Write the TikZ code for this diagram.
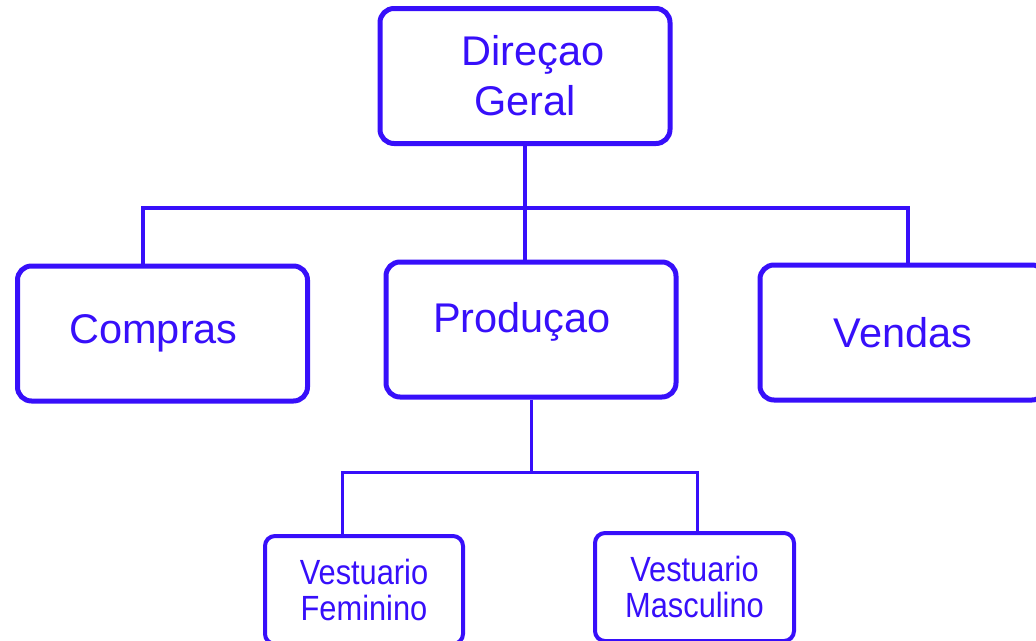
\documentclass[tikz,border=0pt]{standalone}
\usepackage{fontspec}
\setmainfont{Liberation Sans}
\newfontfamily\narrowsans[FakeStretch=0.88]{Liberation Sans}
\usetikzlibrary{positioning,calc}
\definecolor{orgblue}{RGB}{55,15,250}
\tikzset{
  bigbox/.style={rectangle,draw=orgblue,line width=5pt,rounded corners=14pt,text=orgblue,align=center,font=\fontsize{41.5}{50}\selectfont,minimum width=290pt,minimum height=135pt,inner sep=0pt},
  smallbox/.style={rectangle,draw=orgblue,line width=4pt,rounded corners=10pt,text=orgblue,align=center,font=\narrowsans\fontsize{35}{36}\selectfont,minimum width=198pt,minimum height=108pt,inner sep=0pt},
  link/.style={draw=orgblue,line width=4pt},
  sublink/.style={draw=orgblue,line width=3pt}
}

\begin{document}
\begin{tikzpicture}[x=1pt,y=-1pt]
        \useasboundingbox (0,0) rectangle (1036,640);
        \clip (0,0) rectangle (1036,640);

        % Top level
        \node[bigbox] (dir) at (525,76) {\hspace*{16pt}Direçao\\Geral};

        % Departments
        \node[bigbox] (comp) at (162.5,333.5) {Compras\hspace*{18pt}};
        \node[bigbox,text depth=24pt] (prod) at (531,329.5) {Produçao\hspace*{18pt}};
        \node[bigbox,minimum width=286pt] (vend) at (903,332.5) {Vendas};

        % Production lines
        \node[smallbox] (fem) at (364,590) {Vestuario\\Feminino};
        \node[smallbox,minimum width=199pt] (masc) at (694.5,587) {Vestuario\\Masculino};

        % Connectors
        \coordinate (bar) at (525,208);
        \coordinate (subbar) at (531,472);
        \draw[link] (dir.south) -- (dir.south |- prod.north);
        \draw[link] ([xshift=-20pt]comp.north) |- (bar) -| ([xshift=5pt]vend.north);
        \draw[sublink] (prod.south) -- (subbar);
        \draw[sublink] ([xshift=-22pt]fem.north) |- (subbar) -| ([xshift=2.5pt]masc.north);
    \end{tikzpicture}
\end{document}
